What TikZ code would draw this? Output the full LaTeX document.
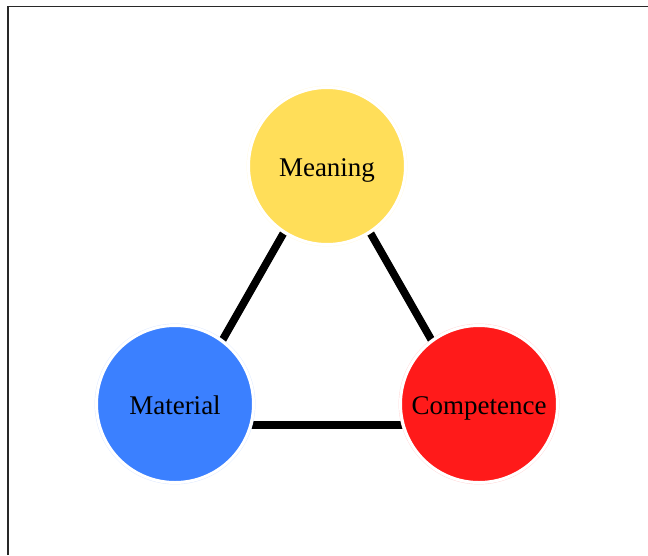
\documentclass[tikz,border=0pt]{standalone}
\usepackage{fontspec}
\setmainfont{Liberation Serif}
\usetikzlibrary{calc,backgrounds}
\definecolor{meanY}{RGB}{255,222,89}
\definecolor{matB}{RGB}{59,128,255}
\definecolor{compR}{RGB}{255,26,26}
\definecolor{frameC}{RGB}{40,40,40}
\tikzset{
  bubble/.style={circle, minimum size=157pt, inner sep=0pt, draw=white,
    line width=3pt, font=\fontsize{27}{30}\selectfont, text=black,
    text height=21pt, text depth=0pt,
    preaction={draw=#1!18, line width=3.8pt}, fill=#1},
  link/.style={line width=7.7pt, draw=black},
  frameline/.style={draw=frameC, line width=1.8pt}
}
\begin{document}
\begin{tikzpicture}[x=1pt, y=-1pt]
  \useasboundingbox (0,0) rectangle (648,555);
  % open frame: top and left edges only
  \draw[frameline] (8,555) -- (8,6.5) -- (648,6.5);

  % the three concepts
  \node[bubble=meanY]  (mean) at (327,166) {Meaning};
  \node[bubble=matB]   (mat)  at (175,404) {Material};
  \node[bubble=compR]  (comp) at (479,404) {Competence};

  % triangle corners the links run between
  \coordinate (tipMean) at ($(mean)+(0,-9)$);
  \coordinate (tipMat)  at ($(mat)+(-1,21)$);
  \coordinate (tipComp) at ($(comp)+(1,21)$);

  \begin{scope}[on background layer]
    \draw[link] (tipMean) -- (tipMat);
    \draw[link] (tipMean) -- (tipComp);
    \draw[link] (tipMat) -- (tipComp);
  \end{scope}
\end{tikzpicture}
\end{document}
